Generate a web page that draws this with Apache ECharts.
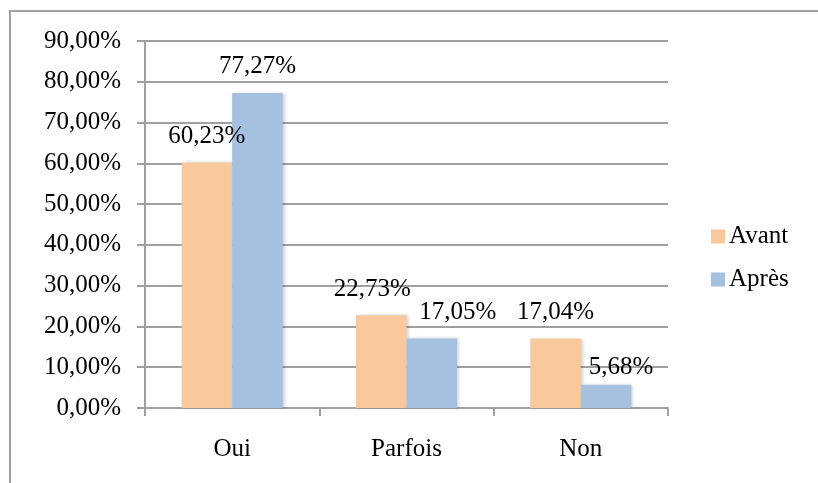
<!DOCTYPE html>
<html>
<head>
<meta charset="utf-8">
<script src="https://cdn.jsdelivr.net/npm/echarts@6/dist/echarts.min.js"></script>
<style>
  html, body { margin: 0; padding: 0; background: #fff; }
  #chart { width: 818px; height: 483px; }
</style>
</head>
<body>
<div id="chart"></div>
<script>
var categories = ['Oui', 'Parfois', 'Non'];
var avant = [60.23, 22.73, 17.04];
var apres = [77.27, 17.05, 5.68];
// decalage des etiquettes (comme dans le graphique d'origine)
var avantOffsets = [[0, -8], [-9, -8], [0, -9]];
var apresOffsets = [[0, -9], [26, -9], [15, 0]];

var font = "'Liberation Serif', 'Times New Roman', serif";
var gray = '#a0a0a0';

function fmt(v) {
	return v.toFixed(2).replace('.', ',') + '%';
}

function buildData(values, offsets) {
	return values.map(function(v, i) {
		return { value: v, label: { offset: offsets[i] } };
	});
}

var myChart = echarts.init(document.getElementById('chart'));

var labelStyle = {
	show: true,
	position: 'top',
	distance: 5,
	color: '#000',
	fontFamily: font,
	fontSize: 25,
	formatter: function(p) { return fmt(p.value); }
};

var option = {
	animation: false,
	graphic: [{
		type: 'rect',
		shape: { x: 10, y: 11, width: 830, height: 500 },
		style: { fill: 'none', stroke: gray, lineWidth: 2 },
		silent: true
	}],
	grid: { left: 145, right: 150, top: 41, bottom: 75 },
	legend: {
		orient: 'vertical',
		left: 706,
		top: 219,
		itemWidth: 14,
		itemHeight: 14,
		itemGap: 18,
		icon: 'rect',
		textStyle: { fontFamily: font, fontSize: 25, color: '#000', padding: [0, 0, 0, -1] },
		data: ['Avant', 'Après']
	},
	xAxis: {
		type: 'category',
		data: categories,
		axisLine: { lineStyle: { color: gray, width: 2 } },
		axisTick: { show: true, length: 8, lineStyle: { color: gray, width: 2 } },
		axisLabel: { color: '#000', fontFamily: font, fontSize: 25, margin: 29 }
	},
	yAxis: {
		type: 'value',
		min: 0,
		max: 90,
		interval: 10,
		axisLine: { show: true, lineStyle: { color: gray, width: 2 } },
		axisTick: { show: true, length: 8, lineStyle: { color: gray, width: 2 } },
		splitLine: { lineStyle: { color: gray, width: 2 } },
		axisLabel: {
			color: '#000', fontFamily: font, fontSize: 25, margin: 24,
			formatter: function(v) { return fmt(v); }
		}
	},
	series: [{
		name: 'Avant',
		type: 'bar',
		data: buildData(avant, avantOffsets),
		barGap: '0%',
		barCategoryGap: '42%',
		itemStyle: { color: '#f9c99d', shadowColor: 'rgba(0,0,0,0.18)', shadowBlur: 3, shadowOffsetX: 2 },
		label: labelStyle
	}, {
		name: 'Après',
		type: 'bar',
		data: buildData(apres, apresOffsets),
		itemStyle: { color: '#a6c0e0', shadowColor: 'rgba(0,0,0,0.18)', shadowBlur: 3, shadowOffsetX: 2 },
		label: labelStyle
	}]
};
myChart.setOption(option);
</script>
</body>
</html>
